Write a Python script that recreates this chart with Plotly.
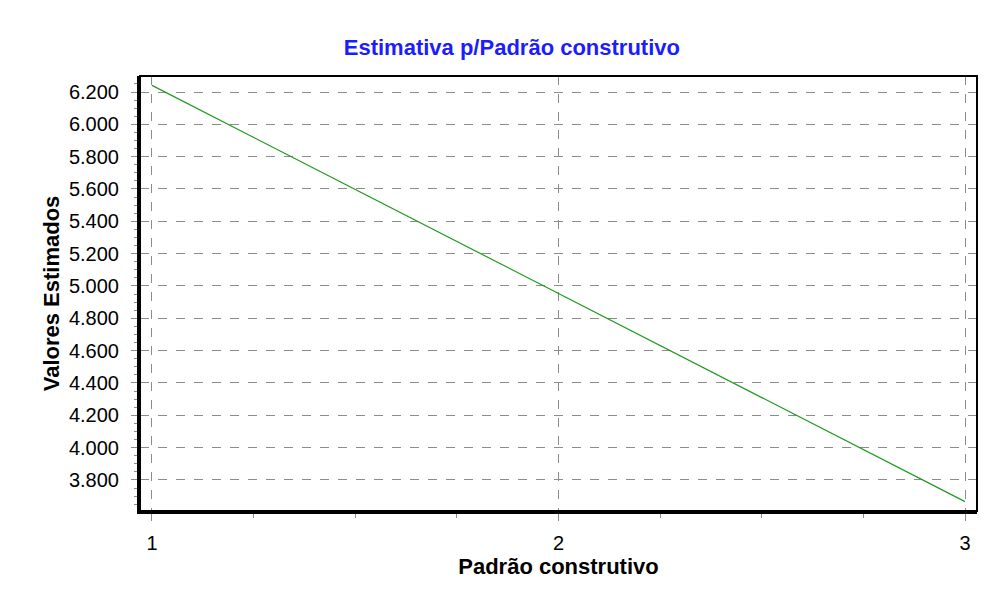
import plotly.graph_objects as go

# data
padrao = [1, 2, 3]
valores = [6241, 4955, 3666]

y_ticks = [3800, 4000, 4200, 4400, 4600, 4800, 5000, 5200, 5400, 5600, 5800, 6000, 6200]
x_ticks = [1, 2, 3]

fig = go.Figure()
fig.add_trace(go.Scatter(x=padrao, y=valores, mode='lines',
                         line=dict(color='#1f9a1f', width=1.2), showlegend=False))

grid = dict(showgrid=True, gridcolor='#8c8c8c', griddash='dash', gridwidth=1)

# the page body has an 8px margin, so the figure is sized to fit the window
fig.update_layout(
    width=988, height=594,
    paper_bgcolor='white', plot_bgcolor='white',
    margin=dict(l=132, r=19, t=68, b=91),
    separators=',.',
    font=dict(family='Liberation Sans, Arial, sans-serif', size=20, color='black'),
    title=dict(text='<b>Estimativa p/Padrão construtivo</b>', x=0.510, xanchor='center',
               y=0.933, yanchor='middle',
               font=dict(size=22, color='#1c1cff')),
    xaxis=dict(
        range=[0.9705, 3.0295], tickvals=x_ticks, ticks='outside', ticklen=7,
        tickcolor='#8c8c8c', tickfont=dict(size=20), ticklabelstandoff=5,
        showline=True, linecolor='black', linewidth=3, zeroline=False,
        minor=dict(dtick=0.25, ticks='outside', ticklen=4, tickcolor='#8c8c8c', showgrid=False),
        title=dict(text='<b>Padrão construtivo</b>', standoff=2, font=dict(size=22)),
        **grid,
    ),
    yaxis=dict(
        range=[3608, 6299], tickvals=y_ticks, tickformat=',d', ticks='outside', ticklen=6,
        tickcolor='#8c8c8c', tickfont=dict(size=20), ticklabelstandoff=8,
        showline=True, linecolor='black', linewidth=3, zeroline=False,
        minor=dict(dtick=50, ticks='outside', ticklen=3, tickcolor='#8c8c8c', showgrid=False),
        title=dict(text='<b>Valores Estimados</b>', standoff=4, font=dict(size=22)),
        **grid,
    ),
    shapes=[dict(type='rect', xref='paper', yref='paper', x0=0, x1=1, y0=0, y1=1,
                 line=dict(color='black', width=2))],
)

fig.write_html("out.html")
